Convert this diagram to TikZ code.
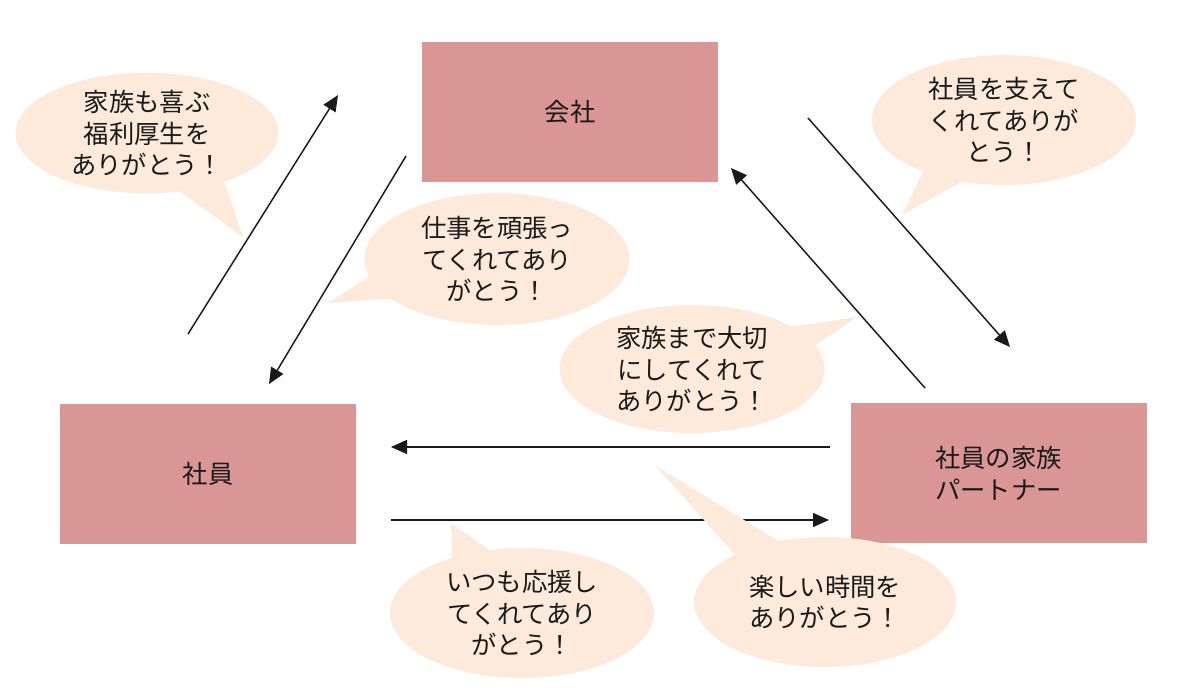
\documentclass[tikz,border=0pt]{standalone}
\usepackage{fontspec}
\setmainfont{Noto Sans CJK JP}
\usetikzlibrary{shapes.geometric,arrows.meta}
\definecolor{boxred}{HTML}{D99694}
\definecolor{bubble}{HTML}{FDEADA}
\definecolor{ink}{HTML}{1A1A1A}
\begin{document}
\begin{tikzpicture}[x=0.75pt,y=-0.75pt,
  entity/.style={rectangle,fill=boxred,draw=none,minimum width=222pt,minimum height=105pt,
    inner sep=0pt,align=center,text=ink,font=\fontsize{19}{24}\selectfont},
  bubbletext/.style={ellipse,fill=bubble,draw=none,inner sep=0pt,align=center,text=ink,
    font=\fontsize{19}{23.5}\selectfont},
  tail/.style={fill=bubble,draw=none},
  flow/.style={draw=ink,line width=1.1pt,-{Triangle[length=12pt,width=10.5pt]}}]
\useasboundingbox (0,0) rectangle (1200,691);
% boxes
\node[entity] (kaisha) at (570,112) {会社};
\node[entity] (shain) at (208,474) {社員};
\node[entity] (kazoku) at (998.5,473) {社員の家族\\パートナー};
% arrow end points
\coordinate (a1s) at (188,334); \coordinate (a1e) at (338,95);
\coordinate (a2s) at (406,156); \coordinate (a2e) at (269,384);
\coordinate (a3s) at (808,118); \coordinate (a3e) at (1010,347);
\coordinate (a4s) at (925,388); \coordinate (a4e) at (731,168);
\coordinate (a5s) at (830,447); \coordinate (a5e) at (391,447);
\coordinate (a6s) at (391,520); \coordinate (a6e) at (829,520);
\draw[flow] (a1s) -- (a1e);
\draw[flow] (a2s) -- (a2e);
\draw[flow] (a3s) -- (a3e);
\draw[flow] (a4s) -- (a4e);
\draw[flow] (a5s) -- (a5e);
\draw[flow] (a6s) -- (a6e);
% tail points
\coordinate (t1a) at (172,186); \coordinate (t1t) at (243,237); \coordinate (t1b) at (222,176);
\coordinate (t2a) at (372,275); \coordinate (t2t) at (328,303); \coordinate (t2b) at (400,298);
\coordinate (t3a) at (783,328); \coordinate (t3t) at (857,317); \coordinate (t3b) at (813,347);
\coordinate (t4a) at (452,560); \coordinate (t4t) at (451,523); \coordinate (t4b) at (492,552);
\coordinate (t5a) at (736,556); \coordinate (t5t) at (656,466); \coordinate (t5b) at (780,542);
\coordinate (t6a) at (925,168); \coordinate (t6t) at (902,215); \coordinate (t6b) at (965,180);
\fill[tail] (t1a) -- (t1t) -- (t1b) -- cycle;
\fill[tail] (t2a) -- (t2t) -- (t2b) -- cycle;
\fill[tail] (t3a) -- (t3t) -- (t3b) -- cycle;
\fill[tail] (t4a) -- (t4t) -- (t4b) -- cycle;
\fill[tail] (t5a) -- (t5t) -- (t5b) -- cycle;
\fill[tail] (t6a) -- (t6t) -- (t6b) -- cycle;
% bubbles
\node[bubbletext,minimum width=197.25pt,minimum height=90pt] (b1) at (147,133) {家族も喜ぶ\\福利厚生を\\ありがとう！};
\node[bubbletext,minimum width=198.75pt,minimum height=99pt] (b2) at (497,259) {仕事を頑張っ\\てくれてあり\\がとう！};
\node[bubbletext,minimum width=198.75pt,minimum height=96pt] (b3) at (692,369) {家族まで大切\\にしてくれて\\ありがとう！};
\node[bubbletext,minimum width=198pt,minimum height=97.5pt] (b4) at (522,613) {いつも応援し\\てくれてあり\\がとう！};
\node[bubbletext,minimum width=196.5pt,minimum height=97.5pt] (b5) at (825,602) {楽しい時間を\\ありがとう！};
\node[bubbletext,minimum width=198pt,minimum height=97.5pt] (b6) at (1004,120) {社員を支えて\\くれてありが\\とう！};
\end{tikzpicture}
\end{document}
